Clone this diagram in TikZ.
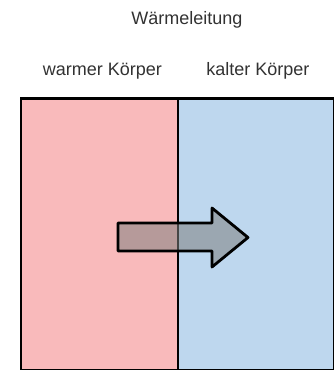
\documentclass[tikz,border=0pt]{standalone}
\usepackage{fontspec}
\setmainfont{Liberation Sans}
\definecolor{warm}{RGB}{249,186,187}
\definecolor{cold}{RGB}{190,215,238}
\definecolor{txt}{RGB}{50,50,50}
\begin{document}
\begin{tikzpicture}[x=1pt,y=-1pt,
  lbl/.style={font=\fontsize{18}{21}\selectfont, text=txt, anchor=base, inner sep=0pt},
  body/.style={draw=black, line width=2.6pt, inner sep=0pt, minimum height=271.5pt},
  arrowfill/.style={fill=black!50, fill opacity=0.55},
  arrowline/.style={draw=black, line width=2.8pt, line join=round}]
\useasboundingbox (0,0) rectangle (334,370);
\node[lbl] (title) at (187,24.5) {Wärmeleitung};
\node[lbl] (warmlbl) at (102.5,75) {warmer Körper};
\node[lbl] (coldlbl) at (258,75) {kalter Körper};
\node[body, fill=warm, minimum width=157pt, anchor=north west] (warmbody) at (19.5,97) {};
\node[body, fill=cold, minimum width=156pt, anchor=north west] (coldbody) at (176.5,97) {};
\path[arrowfill] (118,223) -- (212,223) -- (212,208) -- (248,237.5) -- (212,267) -- (212,251) -- (118,251) -- cycle;
\draw[arrowline] (118,223) -- (212,223) -- (212,208) -- (248,237.5) -- (212,267) -- (212,251) -- (118,251) -- cycle;
\end{tikzpicture}
\end{document}
